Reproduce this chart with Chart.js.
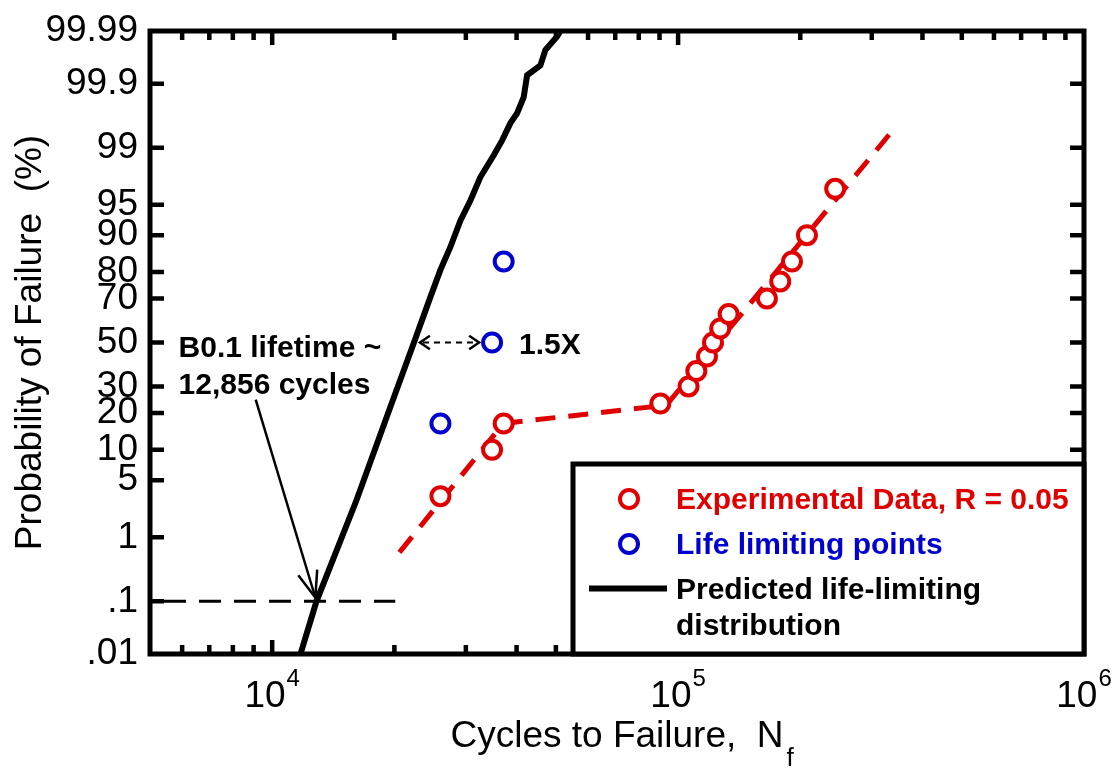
<!DOCTYPE html>
<html>
<head>
<meta charset="utf-8">
<script src="https://cdn.jsdelivr.net/npm/chart.js@4.4.0/dist/chart.umd.min.js"></script>
<style>
  body { margin: 0; background: #fff; overflow: hidden; }
</style>
</head>
<body>
<canvas id="myChart" width="1118" height="775"></canvas>
<script>
// probability axis ticks (%)
const probTicks = [0.01, 0.1, 1, 5, 10, 20, 30, 50, 70, 80, 90, 95, 99, 99.9, 99.99];
const probLabels = ['.01', '.1', '1', '5', '10', '20', '30', '50', '70', '80', '90', '95', '99', '99.9', '99.99'];
// cycles axis ticks (10^n)
const xMajor = [1e4, 1e5, 1e6];
const xMajorExp = ['4', '5', '6'];

// experimental data, R = 0.05
const expCycles = [25970, 34810, 37180, 90410, 106100, 110900, 117800, 121900, 127000, 133200, 165500, 178500, 190800, 207700, 243800];
const expProb = [3.33, 10, 16.67, 23.33, 30, 36.67, 43.33, 50, 56.67, 63.33, 70, 76.67, 83.33, 90, 96.67];

// life limiting points
const limCycles = [25970, 34810, 37180];
const limProb = [16.67, 50, 83.33];

// red dashed fit through experimental data
const fitCycles = [20580, 37120, 93540, 332900];
const fitProb = [0.61, 16.7, 22.7, 99.37];

// predicted life-limiting distribution
const predCycles = [11740, 12856, 16130, 19700, 22350, 24540, 25970, 27480, 29080, 30780, 32580, 35140, 36850, 38630, 40120, 41650, 42460, 45780, 47100, 50340, 51300];
const predProb = [0.01, 0.1, 2.98, 23.4, 50, 70.7, 80.7, 87.3, 92.7, 95.5, 97.59, 98.73, 99.21, 99.56, 99.69, 99.83, 99.929, 99.953, 99.976, 99.987, 99.99];

// B0.1 annotation
const b01Cycles = 12856;
const b01Prob = 0.1;

const RED = '#e00000';
const BLUE = '#0000d0';
const FONT = '"Liberation Sans", Arial, sans-serif';

// inverse normal cdf (normal probability paper)
function probit(p) {
    const a = [-3.969683028665376e+01, 2.209460984245205e+02, -2.759285104469687e+02, 1.383577518672690e+02, -3.066479806614716e+01, 2.506628277459239e+00];
    const b = [-5.447609879822406e+01, 1.615858368580409e+02, -1.556989798598866e+02, 6.680131188771972e+01, -1.328068155288572e+01];
    const c = [-7.784894002430293e-03, -3.223964580411365e-01, -2.400758277161838e+00, -2.549732539343734e+00, 4.374664141464968e+00, 2.938163982698783e+00];
    const d = [7.784695709041462e-03, 3.224671290700398e-01, 2.445134137142996e+00, 3.754408661907416e+00];
    const pl = 0.02425;
    let q, r;
    if (p < pl) {
        q = Math.sqrt(-2 * Math.log(p));
        return (((((c[0] * q + c[1]) * q + c[2]) * q + c[3]) * q + c[4]) * q + c[5]) / ((((d[0] * q + d[1]) * q + d[2]) * q + d[3]) * q + 1);
    }
    if (p > 1 - pl) {
        q = Math.sqrt(-2 * Math.log(1 - p));
        return -(((((c[0] * q + c[1]) * q + c[2]) * q + c[3]) * q + c[4]) * q + c[5]) / ((((d[0] * q + d[1]) * q + d[2]) * q + d[3]) * q + 1);
    }
    q = p - 0.5; r = q * q;
    return (((((a[0] * r + a[1]) * r + a[2]) * r + a[3]) * r + a[4]) * r + a[5]) * q / (((((b[0] * r + b[1]) * r + b[2]) * r + b[3]) * r + b[4]) * r + 1);
}

function toPoints(xs, ps) {
    return xs.map((v, i) => ({ x: v, y: probit(ps[i] / 100) }));
}

function arrowHead(ctx, x1, y1, x2, y2, len, ang) {
    const t = Math.atan2(y2 - y1, x2 - x1);
    ctx.beginPath();
    ctx.moveTo(x2 - len * Math.cos(t - ang), y2 - len * Math.sin(t - ang));
    ctx.lineTo(x2, y2);
    ctx.lineTo(x2 - len * Math.cos(t + ang), y2 - len * Math.sin(t + ang));
    ctx.stroke();
}

// frame, inward ticks, x labels, annotations and legend box
const decorations = {
    id: 'decorations',
    afterDatasetsDraw(chart) {
        const { ctx, chartArea: a, scales: { x, y } } = chart;
        const py = p => y.getPixelForValue(probit(p / 100));
        ctx.save();

        // B0.1 guide line
        ctx.strokeStyle = '#000';
        ctx.lineWidth = 3;
        ctx.setLineDash([22, 13]);
        ctx.beginPath();
        ctx.moveTo(a.left + 14, py(b01Prob));
        ctx.lineTo(x.getPixelForValue(20100), py(b01Prob));
        ctx.stroke();
        ctx.setLineDash([]);

        // inward ticks
        ctx.lineWidth = 4.5;
        const minors = [];
        [1000, 10000, 100000].forEach(dec => {
            for (let k = 1; k <= 9; k++) minors.push(dec * k);
        });
        ctx.beginPath();
        minors.forEach(v => {
            if (v <= 5000 || v >= 1e6) return;
            const px = x.getPixelForValue(v);
            const len = xMajor.includes(v) ? 14 : 9;
            ctx.moveTo(px, a.bottom); ctx.lineTo(px, a.bottom - len);
            ctx.moveTo(px, a.top); ctx.lineTo(px, a.top + len);
        });
        probTicks.slice(1, -1).forEach(p => {
            const yy = py(p);
            ctx.moveTo(a.left, yy); ctx.lineTo(a.left + 14, yy);
            ctx.moveTo(a.right, yy); ctx.lineTo(a.right - 14, yy);
        });
        ctx.stroke();

        // frame
        ctx.lineWidth = 5;
        ctx.strokeRect(a.left, a.top, a.right - a.left, a.bottom - a.top);

        // x tick labels 10^n
        ctx.fillStyle = '#000';
        ctx.textAlign = 'left';
        ctx.textBaseline = 'alphabetic';
        xMajor.forEach((v, i) => {
            ctx.font = '37px ' + FONT;
            const w1 = ctx.measureText('10').width;
            ctx.font = '24px ' + FONT;
            const w2 = ctx.measureText(xMajorExp[i]).width;
            const x0 = x.getPixelForValue(v) - (w1 + w2 + 1) / 2;
            ctx.font = '37px ' + FONT;
            ctx.fillText('10', x0, a.bottom + 53);
            ctx.font = '24px ' + FONT;
            ctx.fillText(xMajorExp[i], x0 + w1 + 1, a.bottom + 32);
        });

        // B0.1 note
        ctx.font = 'bold 30px ' + FONT;
        const nx = x.getPixelForValue(5880);
        const ny = py(43.1);
        ctx.fillText('B0.1 lifetime ~', nx, ny);
        ctx.fillText('12,856 cycles', nx, ny + 36.6);

        // arrow to B0.1 point
        const sx = x.getPixelForValue(9107), sy = py(24.8);
        let ex = x.getPixelForValue(b01Cycles), ey = py(b01Prob);
        const dl = Math.hypot(ex - sx, ey - sy);
        ex -= (ex - sx) / dl * 4; ey -= (ey - sy) / dl * 4;
        ctx.lineWidth = 2.5;
        ctx.beginPath(); ctx.moveTo(sx, sy); ctx.lineTo(ex, ey); ctx.stroke();
        arrowHead(ctx, sx, sy, ex, ey, 28, 0.36);

        // 1.5X double arrow
        const y50 = py(50);
        const lx = x.getPixelForValue(22350) + 6;
        const rx = x.getPixelForValue(limCycles[1]) - 13;
        ctx.lineWidth = 2;
        ctx.setLineDash([6, 5]);
        ctx.beginPath(); ctx.moveTo(lx + 3, y50); ctx.lineTo(rx - 3, y50); ctx.stroke();
        ctx.setLineDash([]);
        ctx.lineWidth = 2.5;
        arrowHead(ctx, rx, y50, lx, y50, 12, 0.6);
        arrowHead(ctx, lx, y50, rx, y50, 12, 0.6);
        ctx.fillText('1.5X', x.getPixelForValue(limCycles[1]) + 27, y50 + 11);

        // subscript f of the x title
        const xt = chart.options.scales.x.title;
        ctx.font = '37px ' + FONT;
        const tw = ctx.measureText(xt.text).width;
        const tcx = (a.left + a.right) / 2;
        const tcy = chart.height - xt.padding.bottom - 37 * 1.2 / 2;
        ctx.font = '26px ' + FONT;
        ctx.textBaseline = 'middle';
        ctx.fillText('f', tcx + tw / 2 + 3, tcy + 22);

        // legend box
        const bl = a.right - 511, bt = a.bottom - 190;
        ctx.fillStyle = '#fff';
        ctx.fillRect(bl, bt, a.right - bl, a.bottom - bt);
        ctx.strokeStyle = '#000';
        ctx.lineWidth = 5;
        ctx.strokeRect(bl, bt, a.right - bl, a.bottom - bt);

        const ds = chart.data.datasets;
        ctx.font = 'bold 30px ' + FONT;
        ctx.textBaseline = 'alphabetic';
        [[0, 35], [1, 80]].forEach(([i, dy]) => {
            ctx.beginPath();
            ctx.arc(bl + 56, bt + dy, 9, 0, Math.PI * 2);
            ctx.fillStyle = '#fff';
            ctx.fill();
            ctx.strokeStyle = ds[i].borderColor;
            ctx.lineWidth = 4;
            ctx.stroke();
            ctx.fillStyle = ds[i].borderColor;
            ctx.fillText(ds[i].label, bl + 103, bt + dy + 10);
        });
        ctx.strokeStyle = '#000';
        ctx.lineWidth = 6;
        ctx.beginPath();
        ctx.moveTo(bl + 16, bt + 124.5); ctx.lineTo(bl + 94, bt + 124.5);
        ctx.stroke();
        ctx.fillStyle = '#000';
        const words = ds[2].label.split(' ');
        ctx.fillText(words.slice(0, 2).join(' '), bl + 103, bt + 135);
        ctx.fillText(words.slice(2).join(' '), bl + 103, bt + 170.5);

        ctx.restore();
    }
};

new Chart('myChart', {
    type: 'scatter',
    data: {
        datasets: [{
            label: 'Experimental Data, R = 0.05',
            data: toPoints(expCycles, expProb),
            borderColor: RED,
            backgroundColor: '#fff',
            pointRadius: 9,
            borderWidth: 4,
            showLine: false
        }, {
            label: 'Life limiting points',
            data: toPoints(limCycles, limProb),
            borderColor: BLUE,
            backgroundColor: '#fff',
            pointRadius: 9,
            borderWidth: 4,
            showLine: false
        }, {
            label: 'Predicted life-limiting distribution',
            data: toPoints(predCycles, predProb),
            borderColor: '#000',
            borderWidth: 6,
            pointRadius: 0,
            showLine: true,
            tension: 0
        }, {
            label: 'fit',
            data: toPoints(fitCycles, fitProb),
            borderColor: RED,
            borderWidth: 5,
            borderDash: [20, 13],
            pointRadius: 0,
            showLine: true,
            tension: 0
        }]
    },
    options: {
        responsive: false,
        devicePixelRatio: 1,
        animation: false,
        layout: { padding: { top: 31, right: 34, left: 0, bottom: 0 } },
        plugins: {
            legend: { display: false },
            tooltip: { enabled: false }
        },
        scales: {
            x: {
                type: 'logarithmic',
                min: 5000,
                max: 1e6,
                afterBuildTicks: s => { s.ticks = xMajor.map(v => ({ value: v })); },
                afterFit: s => { s.height = 121; s.paddingLeft = 0; s.paddingRight = 0; },
                grid: { display: false, drawTicks: false },
                border: { display: false },
                ticks: { display: false },
                title: {
                    display: true,
                    text: 'Cycles to Failure,  N',
                    color: '#000',
                    font: { family: FONT, size: 37 },
                    padding: { top: 0, bottom: 16 }
                }
            },
            y: {
                type: 'linear',
                min: probit(0.0001),
                max: probit(0.9999),
                afterBuildTicks: s => { s.ticks = probTicks.map(p => ({ value: probit(p / 100) })); },
                afterFit: s => { s.width = 150; s.paddingTop = 0; s.paddingBottom = 0; },
                grid: { display: false, drawTicks: false },
                border: { display: false },
                ticks: {
                    autoSkip: false,
                    padding: 12,
                    color: '#000',
                    font: { family: FONT, size: 37 },
                    callback: (v, i) => probLabels[i]
                },
                title: {
                    display: true,
                    text: 'Probability of Failure  (%)',
                    color: '#000',
                    font: { family: FONT, size: 37 },
                    padding: { top: 9, bottom: 0 }
                }
            }
        }
    },
    plugins: [decorations]
});
</script>
</body>
</html>
